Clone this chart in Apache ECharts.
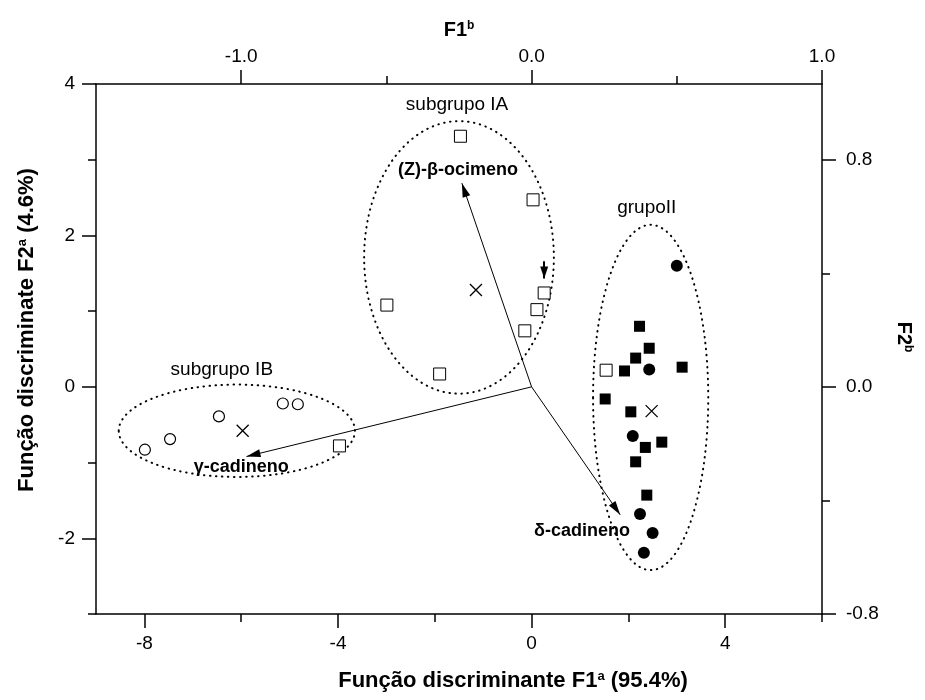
<!DOCTYPE html>
<html>
<head>
<meta charset="utf-8">
<script src="https://cdn.jsdelivr.net/npm/echarts@6/dist/echarts.min.js"></script>
<style>
html, body { margin: 0; padding: 0; background: #fff; }
#main { width: 925px; height: 700px; }
</style>
</head>
<body>
<div id="main"></div>
<script>
var chartDom = document.getElementById('main');
var myChart = echarts.init(chartDom);
var option;

// scores on F1a / F2a (bottom and left axes)
var openSquares = [[-1.47, 3.31], [0.03, 2.47], [0.26, 1.24], [0.11, 1.02], [-0.14, 0.74],
    [-2.99, 1.08], [-1.90, 0.17], [-3.97, -0.78], [1.54, 0.22]];
var openCircles = [[-7.99, -0.83], [-7.47, -0.69], [-6.46, -0.39], [-5.14, -0.22], [-4.83, -0.23]];
var filledSquares = [[2.23, 0.80], [2.43, 0.51], [2.15, 0.38], [1.92, 0.21], [3.11, 0.26],
    [1.52, -0.16], [2.05, -0.33], [2.69, -0.73], [2.35, -0.80], [2.15, -0.99], [2.38, -1.43]];
var filledCircles = [[3.00, 1.60], [2.43, 0.23], [2.09, -0.65], [2.24, -1.68], [2.50, -1.93], [2.32, -2.19]];
var centroids = [[-1.15, 1.28], [-5.97, -0.58], [2.48, -0.32]];

// group ellipses: centre x, centre y, radius x, radius y
var ellipses = [[-1.50, 1.71, 1.96, 1.80], [-6.09, -0.58, 2.44, 0.61], [2.46, -0.14, 1.19, 2.28]];

// loading vectors from the origin
var arrowTips = [[-1.44, 2.69], [-5.89, -0.92], [1.83, -1.69]];
var markerArrow = [[0.26, 1.66], [0.26, 1.43]];

var groupLabels = [['subgrupo IA', -1.54, 3.72], ['grupoII', 2.38, 2.36], ['subgrupo IB', -6.40, 0.22]];
var varLabels = [['(Z)-β-ocimeno', -1.52, 2.86], ['γ-cadineno', -6.00, -1.06], ['δ-cadineno', 1.04, -1.90]];

var bottomMajor = [-8, -4, 0, 4], bottomMinor = [-6, -2, 2, 6];
var leftMajor = [-2, 0, 2, 4], leftMinor = [-3, -1, 1, 3];
var topMajor = [-1, 0, 1], topMinor = [-0.5, 0.5];
var rightMajor = [-0.8, 0, 0.8], rightMinor = [-0.4, 0.4];

var font = 'Liberation Sans, Arial, sans-serif';
var richBig = {
    t: { fontSize: 22, fontWeight: 'bold', fontFamily: font, color: '#000' },
    s: { fontSize: 13, fontWeight: 'bold', fontFamily: font, color: '#000', verticalAlign: 'top' }
};
var richSmall = {
    t: { fontSize: 20, fontWeight: 'bold', fontFamily: font, color: '#000' },
    s: { fontSize: 12, fontWeight: 'bold', fontFamily: font, color: '#000', verticalAlign: 'top' }
};

function majorAxis(grid, pos, min, max, ticks, fmt, margin) {
    return {
        type: 'value', gridIndex: grid, position: pos, min: min, max: max,
        axisLine: { show: true, onZero: false, lineStyle: { color: '#000', width: 1.5 } },
        axisTick: { show: true, customValues: ticks, length: 14, lineStyle: { color: '#000', width: 1.5 } },
        axisLabel: {
            show: true, customValues: ticks, formatter: fmt, margin: margin,
            fontSize: 19, fontFamily: font, color: '#000', showMinLabel: true, showMaxLabel: true
        },
        splitLine: { show: false },
        nameMoveOverlap: false
    };
}

function minorAxis(grid, pos, min, max, ticks) {
    return {
        type: 'value', gridIndex: grid, position: pos, min: min, max: max,
        axisLine: { show: false, onZero: false },
        axisTick: { show: true, customValues: ticks, length: 8, lineStyle: { color: '#000', width: 1.5 } },
        axisLabel: { show: false },
        splitLine: { show: false }
    };
}

var fmtInt = function (v) { return String(v); };
var fmtDec = function (v) { return v.toFixed(1); };

var xBottom = majorAxis(0, 'bottom', -9, 6, bottomMajor, fmtInt, 20);
xBottom.name = '{t|Função discriminante F1}{s|a}{t| (95.4%)}';
xBottom.nameLocation = 'middle';
xBottom.nameGap = 56;
xBottom.nameTextStyle = { rich: richBig, padding: [0, 0, 0, 108] };

var xTop = majorAxis(0, 'top', -1.5, 1.0, topMajor, fmtDec, 18);
xTop.name = '{t|F1}{s|b}';
xTop.nameLocation = 'middle';
xTop.nameGap = 44;
xTop.nameTextStyle = { rich: richSmall };

var yLeft = majorAxis(0, 'left', -3, 4, leftMajor, fmtInt, 21);
yLeft.name = '{t|Função discriminate F2}{s|a}{t| (4.6%)}';
yLeft.nameLocation = 'middle';
yLeft.nameRotate = 90;
yLeft.nameGap = 58;
yLeft.nameTextStyle = { rich: richBig, padding: [0, 0, 0, 38] };

var yRight = majorAxis(0, 'right', -0.8, 1.0667, rightMajor, fmtDec, 24);
yRight.name = '{t|F2}{s|b}';
yRight.nameLocation = 'middle';
yRight.nameRotate = -90;
yRight.nameGap = 72;
yRight.nameTextStyle = { rich: richSmall, padding: [0, 24, 0, 0] };

function textItems(list, bold) {
    return list.map(function (d) {
        return {
            value: [d[1], d[2]],
            label: {
                formatter: d[0], color: '#000', textBorderWidth: 0, opacity: 1,
                fontWeight: bold ? 'bold' : 'normal',
                fontSize: bold ? 18 : 19
            }
        };
    });
}

var arrowHead = 'path://M4,14L8,28L0,28Z M4,0';

option = {
    animation: false,
    backgroundColor: '#fff',
    grid: [
        { left: 96, right: 103, top: 84, bottom: 86, outerBoundsMode: 'none' },
        { left: 96, right: 103, top: 84, bottom: 86, outerBoundsMode: 'none' }
    ],
    xAxis: [xBottom, xTop,
        minorAxis(1, 'bottom', -9, 6, bottomMinor),
        minorAxis(1, 'top', -1.5, 1.0, topMinor)],
    yAxis: [yLeft, yRight,
        minorAxis(1, 'left', -3, 4, leftMinor),
        minorAxis(1, 'right', -0.8, 1.0667, rightMinor)],
    series: [{
        type: 'custom',
        xAxisIndex: 0, yAxisIndex: 0,
        silent: true,
        data: ellipses,
        renderItem: function (params, api) {
            var c = api.coord([api.value(0), api.value(1)]);
            var s = api.size([api.value(2), api.value(3)]);
            return {
                type: 'ellipse',
                shape: { cx: c[0], cy: c[1], rx: s[0], ry: s[1] },
                style: { fill: null, stroke: '#000', lineWidth: 2, lineDash: [0.5, 5.5], lineCap: 'round' }
            };
        }
    }, {
        type: 'lines',
        coordinateSystem: 'cartesian2d',
        xAxisIndex: 0, yAxisIndex: 0,
        silent: true,
        data: arrowTips.map(function (t) { return { coords: [[0, 0], t] }; }),
        symbol: ['none', arrowHead],
        symbolSize: [0, [8, 28]],
        lineStyle: { color: '#000', width: 1, opacity: 1 }
    }, {
        type: 'lines',
        coordinateSystem: 'cartesian2d',
        xAxisIndex: 0, yAxisIndex: 0,
        silent: true,
        data: [{ coords: markerArrow }],
        symbol: ['none', arrowHead],
        symbolSize: [0, [8, 24]],
        lineStyle: { color: '#000', width: 2, opacity: 1 }
    }, {
        type: 'scatter', xAxisIndex: 0, yAxisIndex: 0, silent: true,
        data: openSquares, symbol: 'rect', symbolSize: 12,
        itemStyle: { color: '#fff', borderColor: '#000', borderWidth: 1, opacity: 1 }
    }, {
        type: 'scatter', xAxisIndex: 0, yAxisIndex: 0, silent: true,
        data: openCircles, symbol: 'circle', symbolSize: 11,
        itemStyle: { color: '#fff', borderColor: '#000', borderWidth: 1.2, opacity: 1 }
    }, {
        type: 'scatter', xAxisIndex: 0, yAxisIndex: 0, silent: true,
        data: filledSquares, symbol: 'rect', symbolSize: 11,
        itemStyle: { color: '#000', opacity: 1 }
    }, {
        type: 'scatter', xAxisIndex: 0, yAxisIndex: 0, silent: true,
        data: filledCircles, symbol: 'circle', symbolSize: 12,
        itemStyle: { color: '#000', opacity: 1 }
    }, {
        type: 'scatter', xAxisIndex: 0, yAxisIndex: 0, silent: true,
        data: centroids, symbol: 'path://M0,0L10,10M10,0L0,10', symbolSize: 12,
        itemStyle: { color: 'rgba(0,0,0,0)', borderColor: '#000', borderWidth: 1.3, opacity: 1 }
    }, {
        type: 'scatter', xAxisIndex: 0, yAxisIndex: 0, silent: true,
        data: textItems(groupLabels, false).concat(textItems(varLabels, true)),
        symbol: 'circle', symbolSize: 0,
        itemStyle: { color: '#000', opacity: 1 },
        label: { show: true, position: 'inside', color: '#000', fontFamily: font }
    }]
};

option && myChart.setOption(option);
</script>
</body>
</html>
